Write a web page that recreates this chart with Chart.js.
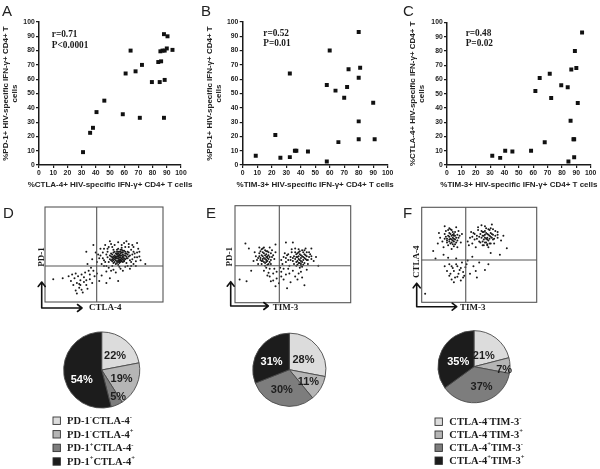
<!DOCTYPE html>
<html><head><meta charset="utf-8">
<script src="https://cdn.jsdelivr.net/npm/chart.js@4.4.0/dist/chart.umd.min.js"></script>
<style>
html,body{margin:0;padding:0;background:#fff;}
#wrap{position:relative;width:600px;height:469px;overflow:hidden;background:#fff;}
canvas{position:absolute;}
.let{position:absolute;font-family:"Liberation Sans",Arial,sans-serif;font-size:15px;line-height:15px;color:#222;}
</style></head><body>
<div id="wrap">
<canvas id="cA" width="200" height="200" style="left:0;top:0"></canvas>
<canvas id="cB" width="200" height="200" style="left:200px;top:0"></canvas>
<canvas id="cC" width="200" height="200" style="left:400px;top:0"></canvas>
<canvas id="fD" width="200" height="125" style="left:0;top:200px"></canvas>
<canvas id="fE" width="200" height="125" style="left:200px;top:200px"></canvas>
<canvas id="fF" width="200" height="125" style="left:400px;top:200px"></canvas>
<canvas id="pD" width="200" height="144" style="left:0;top:325px"></canvas>
<canvas id="pE" width="200" height="144" style="left:200px;top:325px"></canvas>
<canvas id="pF" width="200" height="144" style="left:400px;top:325px"></canvas>
<div class="let" style="left:2px;top:3px">A</div>
<div class="let" style="left:201px;top:3px">B</div>
<div class="let" style="left:403px;top:3px">C</div>
<div class="let" style="left:3px;top:205px">D</div>
<div class="let" style="left:206px;top:205px">E</div>
<div class="let" style="left:403px;top:205px">F</div>
</div>
<script>
// ---------- DATA ----------
const tickStep = 10;
// Panel A: %CTLA-4+ (x) vs %PD-1+ (y)
const aX = [31,36,38,40.5,46,59,61,64.5,68,71,72.5,79.5,84,85,85.5,86,87,88,88,88.5,88.5,90,90.5,94];
const aY = [9,22.5,26,37,45,35.5,64,80,65.5,33,70,58,72,58,79.5,72.5,80,91.5,33,59.5,80,81.5,90,80.5];
// Panel B: %TIM-3+ (x) vs %PD-1+ (y)
const bX = [9,22.5,26,32.5,32.5,36,37,45,58,58,60,64,66,70,72,73,80,80,80,80,81,90,91];
const bY = [6.5,21,5,64,5.5,10,10,9.5,56,2.5,80,52,16,47,54.5,67,93,61,30.5,18,68,43.5,18];
// Panel C: %TIM-3+ (x) vs %CTLA-4+ (y)
const cX = [31.5,37,40.5,45.5,58.5,61.5,64.5,68,71.5,72.5,79.5,84,84.5,86,86.5,88,88.5,88.5,89,90,91,94];
const cY = [6.5,5,10,9.5,10,52,61,16,64,47,56,54.5,2.5,31,67,18,18,5.5,80,68,43.5,93];
const statsA = ["r=0.71","P<0.0001"];
const statsB = ["r=0.52","P=0.01"];
const statsC = ["r=0.48","P=0.02"];
const xTitleA = "%CTLA-4+ HIV-specific IFN-\u03b3+ CD4+ T cells";
const xTitleB = "%TIM-3+ HIV-specific IFN-\u03b3+ CD4+ T cells";
const xTitleC = "%TIM-3+ HIV-specific IFN-\u03b3+ CD4+ T cells";
const yTitleA = ["%PD-1+ HIV-specific IFN-\u03b3+ CD4+ T","cells"];
const yTitleB = ["%PD-1+ HIV-specific IFN-\u03b3+ CD4+ T","cells"];
const yTitleC = ["%CTLA-4+ HIV-specific IFN-\u03b3+ CD4+ T","cells"];

// Flow dot plots (x,y pairs in 0-100 display units)
const flowD = [60,46,62,48,64,45,58,44,63,50,66,47,61,43,59,49,65,52,67,44,63,41,57,47,62,53,68,49,60,40,64,55,56,51,66,42,61,46,63,47,
58,52,65,46,62,44,69,51,59,42,64,49,67,54,57,43,61,51,66,50,60,48,63,43,70,46,55,45,62,39,65,57,58,48,64,42,68,53,61,55,
50,44,52,50,48,40,53,56,72,44,74,50,71,58,75,40,54,36,70,38,73,55,76,47,49,52,51,60,56,61,67,62,62,63,78,52,77,43,46,46,
52,32,58,34,66,33,72,35,80,48,47,56,55,64,69,64,74,60,79,56,44,42,50,38,60,31,64,35,57,58,71,52,53,47,69,41,75,53,54,42,
81,44,45,50,59,60,65,60,77,38,30,23,27,20,33,26,25,25,35,18,29,15,31,29,22,22,38,24,26,12,34,31,40,20,28,27,36,14,24,18,
32,10,42,27,20,27,37,33,30,18,15,25,44,30,39,36,46,22,33,21,40,45,43,52,36,40,55,25,62,22,48,28,85,40,78,62,41,60,52,20,7,24,35,53,
56,48,59,45,61,50,63,44,65,49,67,46,69,48,62,51,60,44,64,47,66,52,58,41,62,42,68,45,70,50,57,50,63,53,65,43,61,48,59,53,
67,49,64,51,60,51,66,45,62,46,58,46,71,48,63,49,65,55,69,46,55,49,61,41,64,53,66,48,60,47,68,51,62,49,57,45,63,45,67,43,
72,49,59,47,65,44,61,53,64,44,70,53,56,44,66,54,62,56,58,55,49,46,51,42,53,53,74,45,73,42,76,51,54,58,68,58,71,61,47,49,
50,56,78,47,80,53,52,38,57,38,63,37,68,37,73,38,56,33,75,58,26,30,29,19,35,23,31,13,23,29,38,29,41,33,27,9];
const flowE = [26,45,24,48,28,43,22,46,27,50,25,42,30,47,21,51,29,52,23,40,26,54,31,44,19,44,28,39,24,56,33,49,20,40,27,47,25,51,32,54,
18,48,23,43,29,45,30,57,22,53,16,43,34,45,26,38,21,57,31,40,24,45,28,48,17,52,35,52,27,42,
56,44,54,47,58,42,52,45,57,49,60,46,55,41,53,50,59,52,62,44,50,43,57,46,61,49,54,39,48,47,63,40,56,53,51,48,58,37,64,47,
46,44,60,41,55,55,49,52,62,52,53,42,66,45,45,49,59,47,57,40,44,42,42,47,40,44,65,50,68,43,52,56,61,56,47,38,55,48,70,47,
30,35,33,30,28,28,36,25,25,33,40,32,44,29,38,20,31,22,46,35,35,17,29,31,50,33,55,30,42,24,58,26,48,21,62,34,52,27,34,35,
60,18,45,15,39,36,27,36,56,36,10,22,14,33,35,60,44,62,50,62,72,38,12,56,66,56,9,61,4,24,
25,46,23,49,27,44,29,49,24,52,26,41,22,44,28,53,30,42,21,48,26,49,24,43,28,46,31,51,23,55,27,53,20,46,29,40,25,57,32,47,
55,45,57,43,53,47,59,44,56,50,54,43,58,48,60,50,52,52,61,45,56,41,58,54,50,46,62,48,54,51,57,38,63,44,51,40,59,39,55,52,
48,44,46,50,64,52,66,48,49,55,60,54,53,38,44,46,43,51,41,40,36,32,42,35,47,30,33,23,54,24,40,27,30,27,57,32];
const flowF = [26,66,24,69,28,64,22,67,27,71,25,62,30,68,20,72,29,74,23,60,26,76,31,65,18,64,28,59,24,78,33,70,19,58,27,68,25,72,32,75,
16,68,22,63,29,66,30,79,21,75,14,62,34,63,26,56,20,80,31,58,24,66,28,70,15,73,35,72,27,61,
56,67,54,70,58,65,52,68,57,72,60,69,55,63,53,74,59,76,62,66,50,64,57,68,61,72,54,60,48,70,63,62,56,78,51,72,58,58,64,70,
46,66,60,62,55,80,49,76,62,77,53,64,66,68,45,73,59,70,57,61,44,62,42,68,40,64,66,74,69,65,52,81,61,82,47,58,55,71,71,70,
30,40,27,36,33,34,25,30,35,42,29,26,31,38,22,33,37,28,26,24,34,23,24,40,32,30,28,21,38,37,36,32,20,38,30,46,45,38,50,42,
42,30,55,34,48,26,58,40,40,44,23,47,19,50,44,48,10,54,12,46,74,57,68,50,3,9,60,52,
25,67,23,70,27,65,29,70,24,73,26,63,22,65,28,72,30,63,21,69,26,70,24,64,28,67,31,71,23,76,27,74,20,67,29,61,25,77,32,68,
55,68,57,66,53,70,59,67,56,73,54,66,58,71,60,73,52,75,61,68,56,63,58,77,50,69,62,71,54,74,57,60,63,67,51,63,59,62,55,75,
48,67,46,72,64,75,66,71,49,79,60,78,53,60,44,69,43,74,41,60,28,33,31,27,34,36,26,38,36,26,24,28,39,40,47,33];
const gateD = [43.8,37.9], gateE = [38.3,38.1], gateF = [38.3,44.5];
const axisLabelsD = ["CTLA-4","PD-1"];
const axisLabelsE = ["TIM-3","PD-1"];
const axisLabelsF = ["TIM-3","CTLA-4"];

// Pie charts
const pieD = [22,19,5,54];
const pieE = [28,11,30,31];
const pieF = [21,7,37,35];
const legD = ["PD-1^-CTLA-4^-","PD-1^-CTLA-4^+","PD-1^+CTLA-4^-","PD-1^+CTLA-4^+"];
const legE = ["PD-1^-TIM-3^-","PD-1^-TIM-3^+","PD-1^+TIM-3^-","PD-1^+TIM-3^+"];
const legF = ["CTLA-4^-TIM-3^-","CTLA-4^-TIM-3^+","CTLA-4^+TIM-3^-","CTLA-4^+TIM-3^+"];

// ---------- STYLE ----------
const SANS = '"Liberation Sans", Arial, sans-serif';
const SERIF = '"Liberation Serif", "Times New Roman", serif';
const INK = '#1a1a1a';
const sliceColors = ['#dcdcdc','#b5b5b5','#7d7d7d','#1c1c1c'];
const sliceText = ['#1e1e1e','#1e1e1e','#1e1e1e','#ffffff'];

// ---------- CORRELATION SCATTERS ----------
const statsPlugin = {
  id:'stats',
  afterDraw(chart, args, o){
    const {ctx, chartArea:a, scales:{x,y}} = chart;
    ctx.save();
    ctx.font = 'bold 9.3px ' + SERIF;
    ctx.fillStyle = INK; ctx.textBaseline = 'middle'; ctx.textAlign='left';
    o.lines.forEach((t,i)=> ctx.fillText(t, x.getPixelForValue(o.at[0]), y.getPixelForValue(o.at[1][i])));
    // x-axis title (drawn without width squeezing)
    ctx.font = 'bold 8px ' + SANS;
    ctx.fillStyle = '#222'; ctx.textAlign = 'center';
    ctx.fillText(o.xTitle, (a.left + a.right)/2, o.xTitleY);
    ctx.restore();
  }
};
function corr(id, xs, ys, xt, yt, stats, g){
  const pts = xs.map((v,i)=>({x:v, y:ys[i]}));
  const axisCommon = () => ({
    type:'linear', min:0, max:100,
    ticks:{stepSize:tickStep, autoSkip:false, maxRotation:0, color:'#222', padding:1.3,
           font:{family:SANS, size:6.8, weight:'bold'}},
    grid:{drawOnChartArea:false, drawTicks:true, tickLength:3, color:INK, lineWidth:1.2},
    border:{display:true, color:INK, width:1.5}
  });
  const xs_ = axisCommon(); xs_.afterFit = s => { s.height = 200 - g.bottom; };
  const ys_ = axisCommon(); ys_.afterFit = s => { s.width = g.left; };
  ys_.title = {display:true, text:yt, color:'#222', font:{family:SANS, size:8, weight:'bold', lineHeight:1.15},
               padding:{top:g.tp, bottom:0}};
  new Chart(document.getElementById(id), {
    type:'scatter',
    data:{datasets:[{data:pts, pointStyle:'rect', pointRadius:2.8, pointHoverRadius:2.8,
      pointBackgroundColor:'#111', pointBorderWidth:0}]},
    options:{responsive:false, animation:false, events:[],
      layout:{padding:{left:0, top:g.top, right:200-g.right, bottom:0}},
      plugins:{legend:{display:false}, tooltip:{enabled:false},
        stats:{lines:stats, at:g.at, xTitle:xt, xTitleY:185}},
      scales:{x:xs_, y:ys_}},
    plugins:[statsPlugin]
  });
}
corr('cA', aX, aY, xTitleA, yTitleA, statsA, {left:39, right:181, top:22, bottom:165, tp:1, at:[9,[91.5,83.5]]});
corr('cB', bX, bY, xTitleB, yTitleB, statsB, {left:42.7, right:187.7, top:22, bottom:165, tp:5, at:[14.2,[92,85]]});
corr('cC', cX, cY, xTitleC, yTitleC, statsC, {left:47, right:190.7, top:22.5, bottom:165, tp:8, at:[13,[92.3,85.3]]});

// ---------- FLOW DOT PLOTS ----------
const flowPlugin = {
  id:'flow',
  afterDatasetsDraw(chart, args, o){
    const {ctx, chartArea:a, scales:{x,y}} = chart;
    ctx.save();
    ctx.strokeStyle = '#555'; ctx.lineWidth = 1.1;
    ctx.strokeRect(a.left, a.top, a.width, a.height);
    const gx = x.getPixelForValue(o.gate[0]), gy = y.getPixelForValue(o.gate[1]);
    ctx.beginPath();
    ctx.moveTo(gx, a.top); ctx.lineTo(gx, a.bottom);
    ctx.moveTo(a.left, gy); ctx.lineTo(a.right, gy);
    ctx.stroke();
    // arrows
    const ox = a.left + o.arrow[0], oy = a.bottom + o.arrow[1];
    const ty = oy - o.arrow[2], rx = ox + o.arrow[3];
    ctx.strokeStyle = '#111'; ctx.lineWidth = 1.6; ctx.lineCap='round'; ctx.lineJoin='round';
    ctx.beginPath();
    ctx.moveTo(ox, ty); ctx.lineTo(ox, oy); ctx.lineTo(rx, oy);
    ctx.moveTo(ox-3.5, ty+4.5); ctx.lineTo(ox, ty); ctx.lineTo(ox+3.5, ty+4.5);
    ctx.moveTo(rx-4.5, oy-3.5); ctx.lineTo(rx, oy); ctx.lineTo(rx-4.5, oy+3.5);
    ctx.stroke();
    ctx.fillStyle = INK; ctx.font = 'bold 9px ' + SERIF;
    ctx.textBaseline = 'middle'; ctx.textAlign = 'left';
    ctx.fillText(o.labels[0], rx + o.xl[0], oy + o.xl[1]);
    ctx.translate(ox + o.yl[0], a.bottom - o.yl[1]);
    ctx.rotate(-Math.PI/2);
    ctx.textAlign = 'center';
    ctx.fillText(o.labels[1], 0, 0);
    ctx.restore();
  }
};
function flow(id, flat, gate, labels, g){
  const pts = [];
  for (let i=0;i<flat.length;i+=2) pts.push({x:flat[i], y:flat[i+1]});
  new Chart(document.getElementById(id), {
    type:'scatter',
    data:{datasets:[{data:pts, pointRadius:1.0, pointHoverRadius:1.0, pointBackgroundColor:'#1a1a1a', pointBorderWidth:0}]},
    options:{responsive:false, animation:false, events:[],
      layout:{padding:g.pad},
      plugins:{legend:{display:false}, tooltip:{enabled:false},
        flow:{gate, labels, arrow:g.arrow, xl:g.xl, yl:g.yl}},
      scales:{x:{display:false, min:0, max:100}, y:{display:false, min:0, max:100}}},
    plugins:[flowPlugin]
  });
}
flow('fD', flowD, gateD, axisLabelsD, {pad:{left:45, top:7, right:37, bottom:23}, arrow:[-3.3,6,26,40.3], xl:[7,-0.7], yl:[0,45]});
flow('fE', flowE, gateE, axisLabelsE, {pad:{left:35, top:5.7, right:49.3, bottom:22.3}, arrow:[-4.3,3.3,24.3,37.6], xl:[4.4,2], yl:[-0.7,46]});
flow('fF', flowF, gateF, axisLabelsF, {pad:{left:21.7, top:7.3, right:63.3, bottom:22.7}, arrow:[-5,4.4,23.4,40], xl:[3.3,0.6], yl:[0,40.6]});

// ---------- PIES ----------
function drawRich(ctx, str, x, y, size){
  let cx = x;
  const parts = str.split(/(\^[+-])/);
  parts.forEach(p=>{
    if (!p) return;
    if (p[0]==='^'){
      ctx.font = 'bold ' + (size*0.62) + 'px ' + SERIF;
      const ch = p[1]==='+' ? '+' : '-';
      ctx.fillText(ch, cx, y - size*0.33);
      cx += ctx.measureText(ch).width;
    } else {
      ctx.font = 'bold ' + size + 'px ' + SERIF;
      ctx.fillText(p, cx, y);
      cx += ctx.measureText(p).width;
    }
  });
}
const piePlugin = {
  id:'pielab',
  afterDatasetsDraw(chart, args, o){
    const {ctx} = chart;
    const meta = chart.getDatasetMeta(0);
    const vals = chart.data.datasets[0].data;
    ctx.save();
    ctx.font = 'bold 11px ' + SANS;
    ctx.textAlign='center'; ctx.textBaseline='middle';
    meta.data.forEach((arc,i)=>{
      const p = arc.getProps(['x','y','startAngle','endAngle','outerRadius'], true);
      const ang = (p.startAngle + p.endAngle)/2 + o.pos[i][1]*Math.PI/180;
      const r = p.outerRadius * o.pos[i][0];
      ctx.fillStyle = sliceText[i];
      ctx.fillText(vals[i] + '%', p.x + r*Math.cos(ang), p.y + r*Math.sin(ang));
    });
    // legend
    ctx.textAlign='left'; ctx.textBaseline='middle';
    o.legend.forEach((t,i)=>{
      const y = o.leg.y + i*o.leg.dy;
      ctx.fillStyle = sliceColors[i];
      ctx.fillRect(o.leg.x, y-3.7, 7.4, 7.4);
      ctx.strokeStyle = '#333'; ctx.lineWidth = 0.9;
      ctx.strokeRect(o.leg.x, y-3.7, 7.4, 7.4);
      ctx.fillStyle = INK;
      drawRich(ctx, t, o.leg.x + o.leg.tx, y + 0.5, 10.5);
    });
    ctx.restore();
  }
};
function pie(id, vals, legend, g){
  new Chart(document.getElementById(id), {
    type:'pie',
    data:{labels:legend, datasets:[{data:vals, backgroundColor:sliceColors, borderColor:'#4a4a4a', borderWidth:0.9}]},
    options:{responsive:false, animation:false, events:[],
      layout:{padding:g.pad},
      plugins:{legend:{display:false}, tooltip:{enabled:false},
        pielab:{pos:g.pos, legend, leg:g.leg}}},
    plugins:[piePlugin]
  });
}
pie('pD', pieD, legD, {pad:{left:63, top:6.5, right:59.6, bottom:60.5},
  pos:[[0.5,5],[0.57,0],[0.83,-8],[0.59,-20]], leg:{x:53, y:95.7, dy:13.6, tx:14}});
pie('pE', pieE, legE, {pad:{left:52.3, top:7.7, right:73.7, bottom:62.3},
  pos:[[0.47,5],[0.62,2],[0.59,6],[0.53,-10]], leg:{x:256, y:95.7, dy:12.6, tx:14.7}});
pie('pF', pieF, legF, {pad:{left:37.5, top:5.2, right:89.5, bottom:65.8},
  pos:[[0.4,5],[0.84,8],[0.6,-8],[0.46,-9]], leg:{x:35, y:96.7, dy:13, tx:14.3}});
</script>
</body></html>
